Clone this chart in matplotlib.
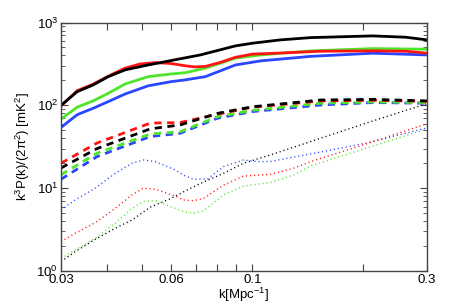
import matplotlib
matplotlib.use("Agg")
import matplotlib.pyplot as plt

plt.rcParams['font.family'] = ['Liberation Sans', 'DejaVu Sans']
plt.rcParams['mathtext.fontset'] = 'custom'
plt.rcParams['mathtext.rm'] = 'Liberation Sans'
plt.rcParams['mathtext.it'] = 'Liberation Sans:italic'
plt.rcParams['mathtext.default'] = 'regular'

# solid lines
k_solid_black = [0.03, 0.0332, 0.0367, 0.0404, 0.0449, 0.0519, 0.0599, 0.0721, 0.0899, 0.1, 0.1194, 0.1443, 0.2133, 0.2628, 0.3]
solid_black = [100, 146, 176, 222, 268, 307, 347, 406, 522, 562, 617, 657, 689, 664, 617]

k_solid_red = [0.03, 0.0332, 0.0367, 0.0404, 0.0449, 0.0494, 0.0543, 0.0599, 0.0656, 0.0698, 0.0744, 0.0818, 0.0899, 0.1, 0.1194, 0.1537, 0.2133, 0.2628, 0.3]
solid_red = [98, 150, 180, 225, 281, 316, 328, 320, 300, 291, 295, 330, 380, 415, 428, 450, 455, 450, 426]

k_solid_gb = [0.03, 0.0332, 0.0367, 0.0404, 0.0449, 0.0519, 0.0599, 0.0656, 0.0744, 0.0899, 0.1053, 0.1443, 0.2133, 0.3]
solid_green = [68, 95, 113, 140, 181, 222, 239, 248, 281, 371, 406, 454, 484, 476]
solid_blue = [54, 77, 92, 111, 137, 172, 193, 203, 222, 307, 344, 390, 426, 406]

# dashed lines
k_dash = [0.03, 0.0376, 0.0526, 0.0635, 0.0803, 0.0999, 0.1537, 0.2133, 0.3]
dash_black = [17.5, 30, 52, 58, 80, 96, 116, 118, 113]
dash_red = [20, 35, 61, 62, 78, 95, 113, 115, 112]
dash_green = [14.5, 26.4, 45, 48, 73, 87, 106, 110, 108]
dash_blue = [12.8, 24, 42, 46, 70, 84, 101, 108, 106]

# dotted lines
k_dot_blue = [0.03, 0.0328, 0.0372, 0.0422, 0.0469, 0.0503, 0.0543, 0.0616, 0.0648, 0.0690, 0.0754, 0.0834, 0.0946, 0.1033, 0.1121, 0.1443, 0.2042, 0.2982]
dot_blue = [5.45, 7.2, 10, 15.1, 20, 21.9, 20.9, 16.6, 14.4, 12.8, 12.9, 18.2, 21.9, 20.9, 21, 25.9, 34.9, 52.9]

k_dot_rg = [0.03, 0.0328, 0.0372, 0.0422, 0.0469, 0.0503, 0.0543, 0.0616, 0.0648, 0.0690, 0.0735, 0.0834, 0.0946, 0.1121, 0.1296, 0.1443, 0.2042, 0.2982]
dot_red = [2.26, 2.85, 3.83, 5.7, 8.3, 10, 9.7, 8.05, 7.2, 7.07, 7.5, 10.9, 14.0, 14.7, 17.4, 20.9, 34, 59.6]
dot_green = [1.42, 1.79, 2.48, 3.77, 5.7, 6.87, 7.07, 5.7, 5.2, 4.97, 5.35, 8.3, 10.6, 11.7, 14.4, 18.5, 30.3, 51.5]

k_dot_black = [0.03, 0.0328, 0.0372, 0.0422, 0.0469, 0.0526, 0.0599, 0.0648, 0.0721, 0.0834, 0.0946, 0.1121, 0.1443, 0.2042, 0.2982]
dot_black = [1.3, 1.71, 2.41, 3.28, 4.13, 5.9, 7.5, 9.0, 11.4, 15.1, 20, 25.2, 36.5, 60.8, 104]

x_ticks = [0.03, 0.04, 0.05, 0.06, 0.07, 0.08, 0.09, 0.1, 0.2, 0.3]
x_labels = ['0.03', '', '', '0.06', '', '', '', '0.1', '', '0.3']

BLACK = '#000000'
RED = '#ff1414'
GREEN = '#4ee62a'
BLUE = '#2a46ff'

fig = plt.figure(figsize=(4.71, 3.07), dpi=100)
ax = fig.add_axes([0.1295, 0.1173, 0.777, 0.8094])

dash_style = (0, (2.6, 2.0))
dot_style = (0, (0.8, 2.1))

# dotted
ax.plot(k_dot_blue, dot_blue, color=BLUE, lw=1.0, ls=dot_style)
ax.plot(k_dot_rg, dot_green, color=GREEN, lw=1.0, ls=dot_style)
ax.plot(k_dot_rg, dot_red, color=RED, lw=1.0, ls=dot_style)
ax.plot(k_dot_black, dot_black, color=BLACK, lw=1.0, ls=dot_style)

# dashed
ax.plot(k_dash, dash_blue, color=BLUE, lw=2, ls=dash_style)
ax.plot(k_dash, dash_green, color=GREEN, lw=2, ls=dash_style)
ax.plot(k_dash, dash_red, color=RED, lw=2, ls=dash_style)
ax.plot(k_dash, dash_black, color=BLACK, lw=2, ls=dash_style)

# solid
ax.plot(k_solid_gb, solid_blue, color=BLUE, lw=2)
ax.plot(k_solid_gb, solid_green, color=GREEN, lw=2)
ax.plot(k_solid_red, solid_red, color=RED, lw=2)
ax.plot(k_solid_black, solid_black, color=BLACK, lw=2)

ax.set_xscale('log')
ax.set_yscale('log')
ax.set_xlim(0.03, 0.3)
ax.set_ylim(1, 1000)

ax.set_xticks(x_ticks)
ax.set_xticklabels(x_labels)
ax.xaxis.set_minor_locator(matplotlib.ticker.NullLocator())

for s in ax.spines.values():
    s.set_color('#444444')
    s.set_linewidth(1.0)
ax.tick_params(which='both', direction='in', top=True, right=True,
               colors='#444444', labelcolor='black', labelsize=9.5)
ax.tick_params(which='major', length=5, width=0.8)
ax.tick_params(which='minor', length=3, width=0.6)
ax.tick_params(axis='x', pad=2)
ax.tick_params(axis='y', pad=2)

ax.set_xlabel('k[Mpc$^{-1}$]', fontsize=9.5, labelpad=0)
ax.set_ylabel('k$^3$P(k)/(2$\\pi^2$) [mK$^2$]', fontsize=9.5, labelpad=3)

fig.savefig('out.png', dpi=100)
